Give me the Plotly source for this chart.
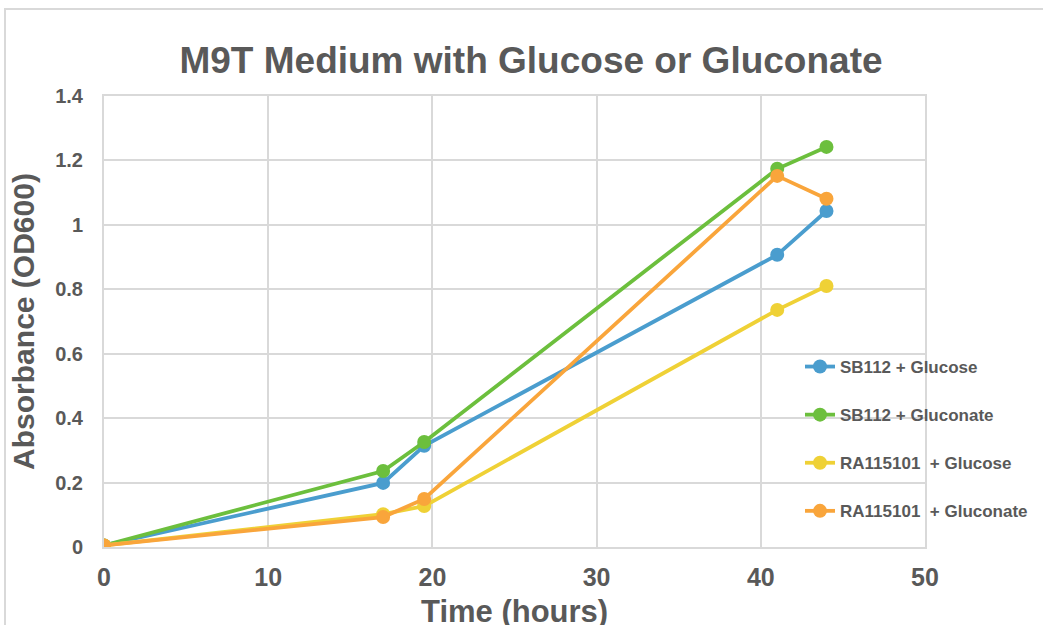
import plotly.graph_objects as go

time_hours = [0, 17, 19.5, 41, 44]
sb112_glucose = [0.005, 0.199, 0.314, 0.907, 1.043]
sb112_gluconate = [0.005, 0.236, 0.326, 1.174, 1.242]
ra115101_glucose = [0.005, 0.102, 0.127, 0.736, 0.810]
ra115101_gluconate = [0.005, 0.093, 0.149, 1.152, 1.081]

series_names = ["SB112 + Glucose", "SB112 + Gluconate", "RA115101  + Glucose", "RA115101  + Gluconate"]
series_values = [sb112_glucose, sb112_gluconate, ra115101_glucose, ra115101_gluconate]
colors = ["#4a9dce", "#6cbf3d", "#efd136", "#f9a53b"]

FONT = "Liberation Sans, Arial, Helvetica, sans-serif"
GRAY = "#595959"

fig = go.Figure()
for i, (name, vals, col) in enumerate(zip(series_names, series_values, colors)):
    fig.add_trace(go.Scatter(
        x=time_hours, y=vals, name="<b>" + name.replace("  ", "&nbsp; ") + "</b>",
        mode="lines+markers",
        line=dict(color=col, width=3.8),
        marker=dict(color=col, size=14),
        legendgroup=f"g{i}",
    ))

fig.update_layout(
    width=1043, height=625,
    paper_bgcolor="white", plot_bgcolor="white",
    margin=dict(l=104, r=118, t=96, b=78, autoexpand=False),
    title=dict(text="<b>M9T Medium with Glucose or Gluconate</b>",
               x=531/1043, xanchor="center", y=1-60/625, yanchor="middle",
               font=dict(family=FONT, size=37, color=GRAY)),
    showlegend=True,
    legend=dict(x=(800-104)/821, xanchor="left", y=(547-349)/451, yanchor="top",
                bgcolor="rgba(0,0,0,0)", font=dict(family=FONT, size=17, color=GRAY),
                tracegroupgap=23, itemwidth=30),
    xaxis=dict(range=[0, 50], dtick=10, showgrid=True, gridcolor="#d9d9d9", gridwidth=2,
               showline=True, linecolor="#d9d9d9", linewidth=2, mirror=True, zeroline=False,
               automargin=False,
               tickfont=dict(family=FONT, size=25, color=GRAY),
               tickprefix="<b>", ticksuffix="</b>", ticks="", ticklabelstandoff=7),
    yaxis=dict(range=[0, 1.4], dtick=0.2, showgrid=True, gridcolor="#d9d9d9", gridwidth=2,
               showline=True, linecolor="#d9d9d9", linewidth=2, mirror=True, zeroline=False,
               automargin=False,
               tickfont=dict(family=FONT, size=20, color=GRAY),
               tickprefix="<b>", ticksuffix="</b>", ticks="", ticklabelstandoff=15,
               title=dict(text="<b>Absorbance (OD600)</b>", font=dict(family=FONT, size=30, color=GRAY), standoff=12)),
)

fig.add_annotation(text="<b>Time (hours)</b>", xref="paper", yref="paper",
                   x=(514-104)/821, xanchor="center", y=(547-611)/451, yanchor="middle",
                   showarrow=False, font=dict(family=FONT, size=31, color=GRAY))

fig.add_shape(type="rect", xref="paper", yref="paper",
              x0=(5-104)/821, x1=(1060-104)/821, y0=(547-640)/451, y1=(547-9)/451,
              line=dict(color="#d9d9d9", width=2), fillcolor="rgba(0,0,0,0)", layer="below")

fig.write_html("out.html")
